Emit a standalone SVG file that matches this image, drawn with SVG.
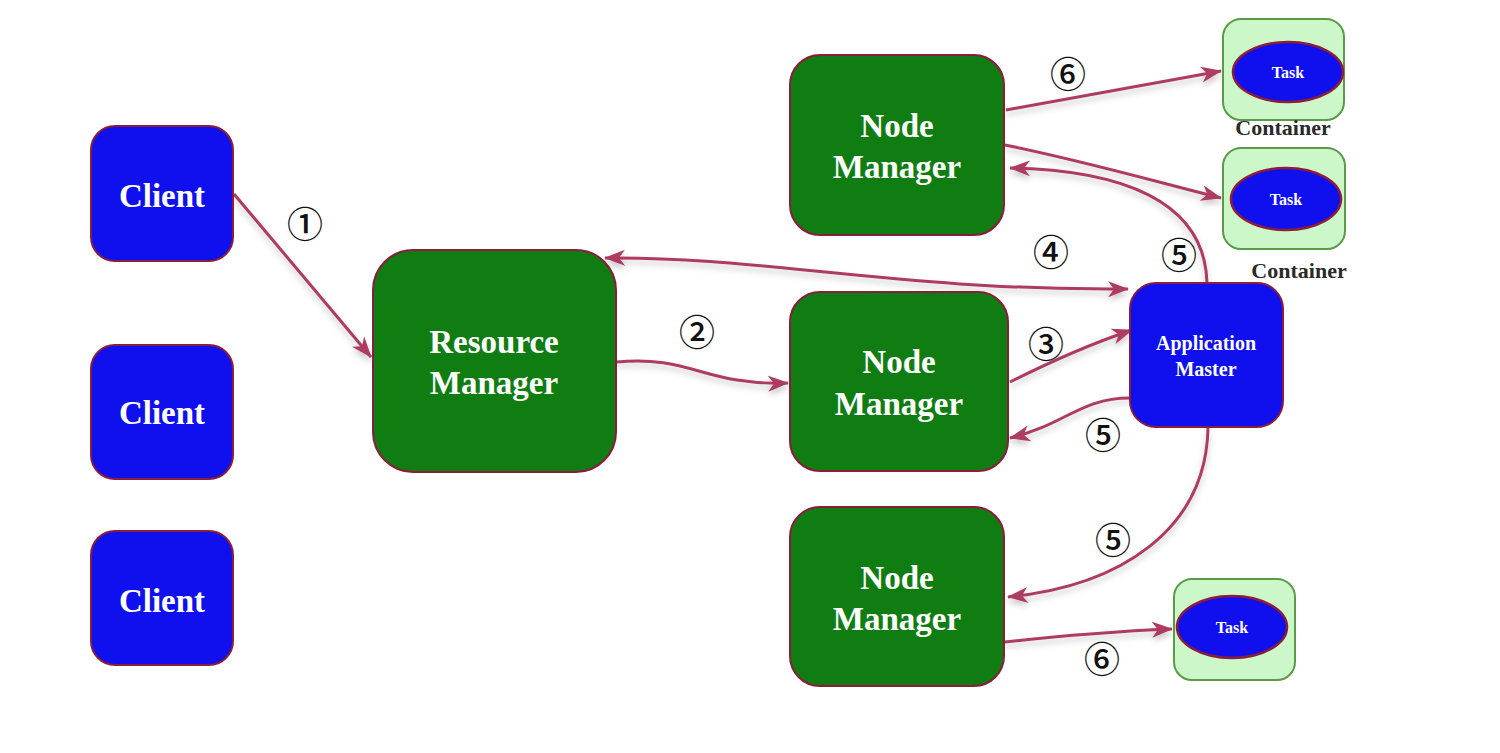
<svg xmlns="http://www.w3.org/2000/svg" width="1500" height="753" viewBox="0 0 1500 753">
  <style>
    .client { fill: #1010ee; stroke: #8a1c3c; stroke-width: 2; }
    .green { fill: #107d12; stroke: #8a1c3c; stroke-width: 2; }
    .cont { fill: #ccf7c8; stroke: #5c9a4a; stroke-width: 2; }
    .task { fill: #1010ee; stroke: #8a1c3c; stroke-width: 2.5; }
    .lbl { font-family: "Liberation Serif", "Times New Roman", serif; font-weight: bold; fill: #ffffff; text-anchor: middle; }
    .big { font-size: 33px; }
    .am { font-size: 20px; }
    .tk { font-size: 16px; }
    .ctext { font-family: "Liberation Serif", "Times New Roman", serif; font-weight: bold; font-size: 22px; fill: #2a2a2a; text-anchor: middle; }
    .num { font-family: "Noto Sans CJK JP", "DejaVu Sans", sans-serif; font-size: 36px; font-weight: 500; fill: #111111; text-anchor: middle; dominant-baseline: central; }
    .conn path { fill: none; stroke: #ad3b62; stroke-width: 3; marker-end: url(#ah); }
  </style>
  <defs>
    <marker id="ah" markerUnits="userSpaceOnUse" markerWidth="22" markerHeight="18" refX="20" refY="8" orient="auto-start-reverse" viewBox="0 0 22 16">
      <path d="M0,0 L21,8 L0,16 L6,8 z" fill="#ad3b62"/>
    </marker>
    <filter id="sh" x="-10%" y="-10%" width="120%" height="130%">
      <feDropShadow dx="0" dy="4" stdDeviation="3" flood-color="#000000" flood-opacity="0.22"/>
    </filter>
  </defs>
  <rect width="1500" height="753" fill="#ffffff"/>

  <g id="connectors" class="conn" filter="url(#sh)">
    <path id="c1" d="M234,194 L371,357"/>
    <path id="c2" d="M617,362 C690,355 705,386 788,383"/>
    <path id="c4" d="M605,258 C760,256 900,291 1128,289" marker-start="url(#ah)"/>
    <path id="c3" d="M1010,382 C1050,362 1090,344 1132,330"/>
    <path id="c5a" d="M1130,398 C1080,398 1065,425 1010,438"/>
    <path id="c5b" d="M1208,428 C1206,530 1120,586 1008,597"/>
    <path id="c5c" d="M1207,283 C1205,200 1120,170 1010,168"/>
    <path id="c6a" d="M1006,110 C1080,96 1150,84 1221,71"/>
    <path id="c6b" d="M1005,145 C1080,160 1150,180 1221,198"/>
    <path id="c6c" d="M1005,642 C1060,636 1120,631 1172,629"/>
  </g>

  <g id="labels">
    <text class="num" x="305" y="222">①</text>
    <text class="num" x="697" y="330">②</text>
    <text class="num" x="1046" y="342">③</text>
    <text class="num" x="1051" y="250">④</text>
    <text class="num" x="1179" y="253">⑤</text>
    <text class="num" x="1103" y="433">⑤</text>
    <text class="num" x="1113" y="538">⑤</text>
    <text class="num" x="1068" y="72">⑥</text>
    <text class="num" x="1102" y="657">⑥</text>
  </g>

  <g id="client1">
    <rect class="client" x="91" y="126" width="142" height="135" rx="24"/>
    <text class="lbl big" x="162" y="207">Client</text>
  </g>
  <g id="client2">
    <rect class="client" x="91" y="345" width="142" height="134" rx="24"/>
    <text class="lbl big" x="162" y="424">Client</text>
  </g>
  <g id="client3">
    <rect class="client" x="91" y="531" width="142" height="134" rx="24"/>
    <text class="lbl big" x="162" y="612">Client</text>
  </g>

  <g id="resource-manager">
    <rect class="green" x="373" y="250" width="243" height="222" rx="40"/>
    <text class="lbl big" x="494" y="353">Resource</text>
    <text class="lbl big" x="494" y="394">Manager</text>
  </g>

  <g id="node-manager1">
    <rect class="green" x="790" y="55" width="214" height="180" rx="30"/>
    <text class="lbl big" x="897" y="137">Node</text>
    <text class="lbl big" x="897" y="178">Manager</text>
  </g>
  <g id="node-manager2">
    <rect class="green" x="790" y="292" width="218" height="179" rx="30"/>
    <text class="lbl big" x="899" y="373">Node</text>
    <text class="lbl big" x="899" y="415">Manager</text>
  </g>
  <g id="node-manager3">
    <rect class="green" x="790" y="507" width="214" height="179" rx="30"/>
    <text class="lbl big" x="897" y="589">Node</text>
    <text class="lbl big" x="897" y="630">Manager</text>
  </g>

  <g id="application-master">
    <rect class="client" x="1130" y="283" width="153" height="144" rx="26"/>
    <text class="lbl am" x="1206" y="350">Application</text>
    <text class="lbl am" x="1206" y="376">Master</text>
  </g>

  <g id="container1">
    <rect class="cont" x="1223" y="19" width="121" height="101" rx="18"/>
    <ellipse class="task" cx="1288" cy="72" rx="55" ry="30"/>
    <text class="lbl tk" x="1288" y="78">Task</text>
    <text class="ctext" x="1283" y="135">Container</text>
  </g>
  <g id="container2">
    <rect class="cont" x="1223" y="148" width="122" height="101" rx="18"/>
    <ellipse class="task" cx="1286" cy="199" rx="55" ry="31"/>
    <text class="lbl tk" x="1286" y="205">Task</text>
    <text class="ctext" x="1299" y="278">Container</text>
  </g>
  <g id="container3">
    <rect class="cont" x="1174" y="579" width="121" height="101" rx="18"/>
    <ellipse class="task" cx="1232" cy="627" rx="55" ry="31"/>
    <text class="lbl tk" x="1232" y="633">Task</text>
  </g>
</svg>
